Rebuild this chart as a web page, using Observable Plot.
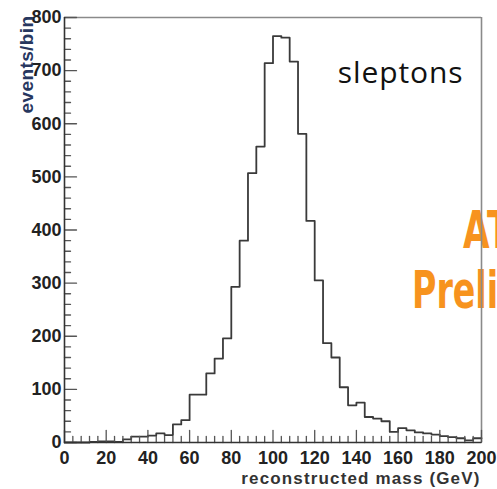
<!DOCTYPE html>
<html><head><meta charset="utf-8">
<script src="https://cdn.jsdelivr.net/npm/d3@7"></script>
<script src="https://cdn.jsdelivr.net/npm/@observablehq/plot@0.6"></script>
<style>html,body{margin:0;padding:0;overflow:hidden;background:#fff}</style>
</head><body><div id="chart"></div>
<script>
// bin lower edges (GeV), 4 GeV bins
const binStarts = [0,4,8,12,16,20,24,28,32,36,40,44,48,52,56,60,64,68,72,76,80,84,88,92,96,100,104,108,112,116,120,124,128,132,136,140,144,148,152,156,160,164,168,172,176,180,184,188,192,196];
const binEnd = 200;
// events per bin
const counts = [0,0,0,1,2,2,1,6,11,11,13,17,14,34,42,90,90,130,158,196,293,380,507,557,714,765,762,717,581,417,305,187,160,104,70,75,48,45,40,20,27,23,19,17,15,12,10,8,4,8];
const xTicks = [0,20,40,60,80,100,120,140,160,180,200];
const yTicks = [0,100,200,300,400,500,600,700,800];
const xMinor = d3.range(0, 201, 4).filter(v => v % 20 !== 0);
const yMinor = d3.range(0, 801, 20).filter(v => v % 100 !== 0);
const title = "sleptons";
const xLabel = "reconstructed mass (GeV)";
const yLabel = "events/bin";
const stamp = ["ATLAS", "Preliminary"];

const points = binStarts.map((x, i) => ({x, y: counts[i]}));
points.push({x: binEnd, y: counts[counts.length - 1]});

const tickShape = {draw(context, l) { context.moveTo(0, 0); context.lineTo(0, -l); }};
const font = "'Liberation Sans', Arial, sans-serif";

const plot = Plot.plot({
  width: 497, height: 489,
  marginLeft: 64, marginRight: 16, marginTop: 17, marginBottom: 47,
  style: {fontFamily: font, background: "white", overflow: "hidden"},
  x: {domain: [0, 200]},
  y: {domain: [0, 800]},
  marks: [
    Plot.ruleY([800], {stroke: "#8a8a8a", strokeWidth: 1.6}),
    Plot.ruleX([200], {stroke: "#8a8a8a", strokeWidth: 1.6}),
    Plot.line(points, {x: "x", y: "y", curve: "step-after", stroke: "#3a3a3a", strokeWidth: 1.8}),
    Plot.vector(xMinor, {x: d => d, y: 0, length: 6, rotate: 0, anchor: "start", shape: tickShape, stroke: "#555", strokeWidth: 1.3}),
    Plot.vector(xTicks, {x: d => d, y: 0, length: 12, rotate: 0, anchor: "start", shape: tickShape, stroke: "#555", strokeWidth: 1.3}),
    Plot.vector(yMinor, {x: 0, y: d => d, length: 6, rotate: 90, anchor: "start", shape: tickShape, stroke: "#555", strokeWidth: 1.3}),
    Plot.vector(yTicks, {x: 0, y: d => d, length: 12, rotate: 90, anchor: "start", shape: tickShape, stroke: "#555", strokeWidth: 1.3}),
    Plot.axisX({ticks: xTicks, tickSize: 0, tickPadding: 9, fontSize: 18, fontWeight: "bold", fill: "#222", label: null}),
    Plot.axisY({ticks: yTicks, tickSize: 0, tickPadding: 3, fontSize: 18, fontWeight: "bold", fill: "#222", label: null}),
    Plot.ruleX([0], {stroke: "#333", strokeWidth: 1.6}),
    Plot.ruleY([0], {stroke: "#333", strokeWidth: 1.6}),
    Plot.text([title], {frameAnchor: "top-right", textAnchor: "end", lineAnchor: "bottom", dx: -18, dy: 65, fontSize: 30, fontFamily: "'Open Sans', sans-serif", fill: "#111"}),
    Plot.text([xLabel], {frameAnchor: "bottom-right", textAnchor: "end", lineAnchor: "bottom", dx: -1, dy: 41, fontSize: 17, fontWeight: "bold", fill: "#333"}),
    Plot.text([yLabel], {frameAnchor: "top-left", textAnchor: "end", lineAnchor: "bottom", rotate: -90, dx: -32, dy: -2, fontSize: 19, fontWeight: "bold", fill: "#27375f"})
  ]
});

const svg = d3.select(plot);
// letter spacing to match the reference's wider lettering
const spacing = new Map([[title, "0.9px"], [xLabel, "1.15px"], [yLabel, "0.4px"]]);
svg.selectAll("text").each(function() {
  const s = spacing.get(this.textContent);
  if (s) d3.select(this).attr("letter-spacing", s);
});

// orange stamp, partially cut off at the right edge
const g = svg.insert("g", ":first-child").attr("font-family", "'DejaVu Sans', sans-serif").attr("font-weight", "bold").attr("font-size", 52).attr("fill", "#f7931e").attr("text-anchor", "start");
g.append("text").attr("transform", "translate(463,248) scale(0.66,1)").text(stamp[0]);
g.append("text").attr("transform", "translate(412,308) scale(0.64,1)").text(stamp[1]);

document.getElementById("chart").appendChild(plot);
</script>
</body></html>
